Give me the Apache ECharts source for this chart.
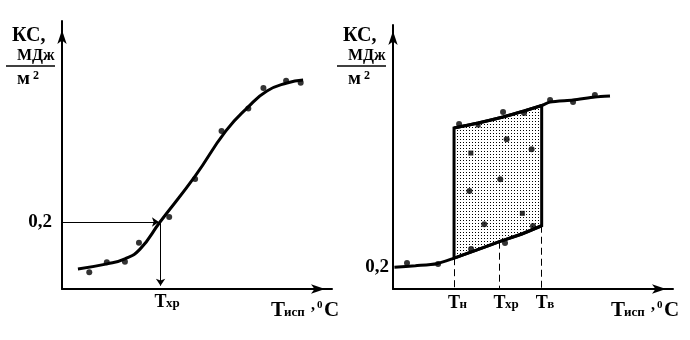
<!DOCTYPE html>
<html>
<head>
<meta charset="utf-8">
<script src="https://cdn.jsdelivr.net/npm/echarts@6/dist/echarts.min.js"></script>
<style>
  html, body { margin: 0; padding: 0; background: #fff; }
  #chart { width: 690px; height: 340px; }
</style>
</head>
<body>
<div id="chart"></div>
<script>
// ---- Left panel: impact toughness KC vs test temperature ----
const leftCurve = [[5.9,0.060],[16.7,0.075],[23.3,0.090],[28.9,0.119],[36.3,0.200],[49.3,0.337],
  [60.7,0.472],[68.9,0.543],[75.9,0.591],[83.3,0.615],[89.3,0.624]];
const leftPoints = [[10.1,0.050],[16.6,0.080],[23.3,0.081],[28.5,0.138],[39.7,0.215],[49.3,0.328],
  [59.1,0.472],[69.0,0.539],[74.6,0.600],[83.0,0.622],[88.4,0.616]];
const leftLevel = 0.2;      // KC criterion
const leftTxr = 36.5;       // brittleness temperature

// ---- Right panel: scatter band between lower and upper shelves ----
const lowerCurve = [[0.5,0.197],[8.0,0.212],[15.6,0.230],[21.8,0.280],[30.0,0.355],[38.0,0.430],
  [46.0,0.500],[53.1,0.575]];
const upperCurve = [[21.8,1.464],[30.4,1.509],[39.3,1.564],[46.8,1.618],[53.1,1.668],[56.1,1.700],
  [64.3,1.718],[72.1,1.745],[77.5,1.755]];
const rightCircles = [[5.0,0.236],[16.1,0.227],[27.9,0.364],[40.0,0.418],[50.0,0.573],
  [23.6,1.500],[39.3,1.609],[46.8,1.600],[56.1,1.718],[64.3,1.700],[72.1,1.764],
  [40.6,1.361],[49.5,1.270],[38.3,0.997],[27.3,0.891],[32.6,0.588]];
const rightSquares = [[30.4,1.491],[27.8,1.236],[46.2,0.688]];
const rightTn = 21.8, rightTxr = 38.0, rightTv = 53.1;
const dropLines = [[rightTn,0.280],[rightTxr,0.430],[rightTv,0.575]];

const yTickLabel = '0,2';
const FONT = '"Liberation Serif", "Times New Roman", serif';

// dotted fill for the transition band
const dotCanvas = document.createElement('canvas');
dotCanvas.width = 3; dotCanvas.height = 3;
const dctx = dotCanvas.getContext('2d');
dctx.fillStyle = '#000';
dctx.fillRect(1, 1, 1, 1);

const band = lowerCurve.filter(p => p[0] >= rightTn && p[0] <= rightTv)
  .concat(upperCurve.filter(p => p[0] <= rightTv).slice().reverse());

const axisLineStyle = { lineStyle: { color: '#000', width: 2 } };

function xAxisCfg(gridIndex) {
  return {
    type: 'value', gridIndex, min: 0, max: 100,
    axisLine: { show: true, ...axisLineStyle, symbol: ['none', 'arrow'], symbolSize: [7, 14], symbolOffset: [0, -7] },
    axisTick: { show: false }, axisLabel: { show: false }, splitLine: { show: false }
  };
}
function yAxisCfg(gridIndex, max, margin, endOffset) {
  return {
    type: 'value', gridIndex, min: 0, max, interval: 0.2,
    axisLine: { show: true, ...axisLineStyle, symbol: ['none', 'arrow'], symbolSize: [7, 14], symbolOffset: [0, endOffset] },
    axisTick: { show: false }, splitLine: { show: false },
    axisLabel: {
      show: true, margin, color: '#000', fontFamily: FONT, fontWeight: 'bold', fontSize: 19,
      formatter: v => (Math.abs(v - 0.2) < 1e-6 ? yTickLabel : '')
    }
  };
}

const chart = echarts.init(document.getElementById('chart'), null, { renderer: 'canvas' });
chart.setOption({
  animation: false,
  backgroundColor: '#fff',
  grid: [
    { left: 62, top: 21, width: 270, height: 268 },
    { left: 393, top: 25, width: 280, height: 264 }
  ],
  xAxis: [xAxisCfg(0), xAxisCfg(1)],
  yAxis: [yAxisCfg(0, 0.8, 10, -9), yAxisCfg(1, 2.4, 4, -6)],
  series: [
    {
      type: 'line', xAxisIndex: 0, yAxisIndex: 0, data: leftCurve, smooth: 0.5,
      showSymbol: false, lineStyle: { color: '#000', width: 3 }, z: 3
    },
    {
      type: 'scatter', xAxisIndex: 0, yAxisIndex: 0, data: leftPoints, symbolSize: 6,
      itemStyle: { color: '#000' }, z: 4
    },
    {
      type: 'lines', coordinateSystem: 'cartesian2d', xAxisIndex: 0, yAxisIndex: 0,
      symbol: ['none', 'arrow'], symbolSize: 7,
      lineStyle: { color: '#000', width: 1, opacity: 1 },
      data: [
        { coords: [[0, leftLevel], [leftTxr - 0.6, leftLevel]] },
        { coords: [[leftTxr, leftLevel], [leftTxr, 0.01]] }
      ], z: 2
    },
    {
      type: 'custom', xAxisIndex: 1, yAxisIndex: 1, data: [0], silent: true, z: 1,
      renderItem: (params, api) => ({
        type: 'polygon',
        shape: { points: band.map(p => api.coord(p)) },
        style: { fill: { image: dotCanvas, repeat: 'repeat' }, stroke: '#000', lineWidth: 3 }
      })
    },
    {
      type: 'line', xAxisIndex: 1, yAxisIndex: 1, data: lowerCurve, smooth: 0.25,
      showSymbol: false, lineStyle: { color: '#000', width: 3 }, z: 3
    },
    {
      type: 'line', xAxisIndex: 1, yAxisIndex: 1, data: upperCurve, smooth: 0.25,
      showSymbol: false, lineStyle: { color: '#000', width: 3 }, z: 3
    },
    {
      type: 'scatter', xAxisIndex: 1, yAxisIndex: 1, data: rightCircles, symbolSize: 6,
      itemStyle: { color: '#000' }, z: 4
    },
    {
      type: 'scatter', xAxisIndex: 1, yAxisIndex: 1, data: rightSquares, symbol: 'rect', symbolSize: 5,
      itemStyle: { color: '#000' }, z: 4
    },
    {
      type: 'lines', coordinateSystem: 'cartesian2d', xAxisIndex: 1, yAxisIndex: 1,
      lineStyle: { color: '#000', width: 1, type: [7, 4], opacity: 1 },
      data: dropLines.map(p => ({ coords: [[p[0], p[1]], [p[0], 0]] })), z: 2
    }
  ]
});

// ---- text: axis names and temperature marks ----
function txt(str, x, baseline, size, align) {
  return {
    type: 'text', silent: true, z: 10,
    style: {
      text: str, x, y: baseline - 0.3 * size, font: `bold ${size}px ${FONT}`,
      align: align || 'left', verticalAlign: 'middle', fill: '#000'
    }
  };
}
function tempMark(gridIndex, value, sub, baseline) {
  const px = chart.convertToPixel({ gridIndex }, [value, 0])[0];
  return [txt('T', px, baseline, 18, 'center'), txt(sub, px + 5.5, baseline, 13)];
}
function kcName(x0) {
  return [
    txt('КС,', x0, 42, 20),
    txt('МДж', x0 + 5, 61, 16),
    { type: 'line', silent: true, shape: { x1: x0 - 6, y1: 66, x2: x0 + 43, y2: 66 }, style: { stroke: '#000', lineWidth: 1.5 } },
    txt('м', x0 + 5, 85, 19),
    txt('2', x0 + 21, 80, 12)
  ];
}
function tempName(x0) {
  return [
    txt('T', x0, 317, 21),
    txt('исп', x0 + 13, 317, 13),
    txt(',', x0 + 40, 311, 16),
    txt('0', x0 + 46, 308, 11),
    txt('C', x0 + 53, 317, 21)
  ];
}

chart.setOption({
  graphic: [
    ...kcName(12),
    ...kcName(343),
    ...tempName(271),
    ...tempName(611),
    ...tempMark(0, leftTxr, 'хр', 308),
    ...tempMark(1, rightTn, 'н', 309),
    ...tempMark(1, rightTxr, 'хр', 309),
    ...tempMark(1, rightTv, 'в', 309)
  ]
});
</script>
</body>
</html>
